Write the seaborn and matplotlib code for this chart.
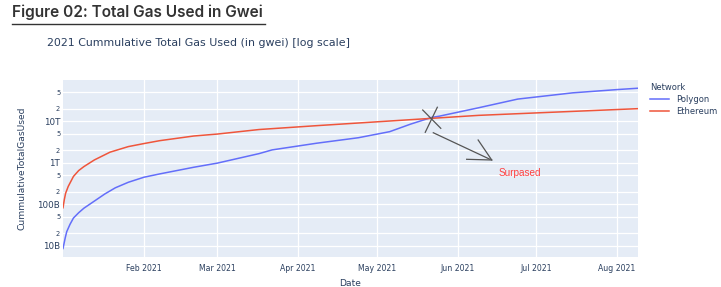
import matplotlib
matplotlib.use("Agg")
import matplotlib.pyplot as plt
import matplotlib.ticker as mticker
import seaborn as sns
import pandas as pd


# Values (gas in gwei)

networks = ['Polygon', 'Ethereum']
line_colors = ['#636EFA', '#EF553B']

eth_dates = ['2021-01-01 00:00', '2021-01-01 12:00', '2021-01-02 00:00', '2021-01-03 00:00',
             '2021-01-05 00:00', '2021-01-07 00:00', '2021-01-09 00:00', '2021-01-13 00:00',
             '2021-01-19 00:00', '2021-01-26 00:00', '2021-02-01 00:00', '2021-02-07 00:00',
             '2021-02-20 00:00', '2021-03-01 00:00', '2021-03-17 00:00', '2021-04-08 00:00',
             '2021-05-22 00:00', '2021-06-09 00:00', '2021-07-01 00:00', '2021-08-09 00:00']
eth_gas = [8.3e10, 1.3e11, 1.85e11, 2.7e11,
           4.7e11, 6.5e11, 8.1e11, 1.17e12,
           1.8e12, 2.45e12, 2.9e12, 3.4e12,
           4.4e12, 4.9e12, 6.3e12, 7.8e12,
           1.17e13, 1.38e13, 1.58e13, 2.0e13]

poly_dates = ['2021-01-01 00:00', '2021-01-01 20:00', '2021-01-02 10:00', '2021-01-03 16:00',
              '2021-01-05 00:00', '2021-01-07 00:00', '2021-01-09 00:00', '2021-01-13 00:00',
              '2021-01-17 00:00', '2021-01-21 00:00', '2021-01-26 00:00', '2021-02-01 00:00',
              '2021-02-07 00:00', '2021-02-20 00:00', '2021-03-01 00:00', '2021-03-17 00:00',
              '2021-03-22 00:00', '2021-04-08 00:00', '2021-04-24 00:00', '2021-05-06 00:00',
              '2021-05-14 00:00', '2021-05-22 00:00', '2021-05-25 00:00', '2021-06-09 00:00',
              '2021-06-24 00:00', '2021-07-15 00:00', '2021-08-01 00:00', '2021-08-09 00:00']
poly_gas = [8.7e9, 1.55e10, 2.2e10, 3.3e10,
            4.7e10, 6.3e10, 8.1e10, 1.2e11,
            1.78e11, 2.5e11, 3.4e11, 4.5e11,
            5.4e11, 7.8e11, 9.8e11, 1.66e12,
            2.04e12, 2.95e12, 4.0e12, 5.6e12,
            8.5e12, 1.23e13, 1.32e13, 2.1e13,
            3.4e13, 4.8e13, 5.75e13, 6.2e13]

month_ticks = ['2021-02-01', '2021-03-01', '2021-04-01', '2021-05-01',
               '2021-06-01', '2021-07-01', '2021-08-01']
month_labels = ['Feb 2021', 'Mar 2021', 'Apr 2021', 'May 2021', 'Jun 2021', 'Jul 2021', 'Aug 2021']

major_y = [1e10, 1e11, 1e12, 1e13]
major_y_labels = ['10B', '100B', '1T', '10T']
minor_y = [2e10, 5e10, 2e11, 5e11, 2e12, 5e12, 2e13, 5e13]
minor_y_labels = ['2', '5', '2', '5', '2', '5', '2', '5']


# Table for seaborn

df = pd.concat([
  pd.DataFrame({'Date': pd.to_datetime(poly_dates), 'CummulativeTotalGasUsed': poly_gas, 'Network': 'Polygon'}),
  pd.DataFrame({'Date': pd.to_datetime(eth_dates), 'CummulativeTotalGasUsed': eth_gas, 'Network': 'Ethereum'}),
], ignore_index=True)


# Plotting

text_color = '#2a3f5f'
W, H = 721, 287
fig = plt.figure(figsize=(W / 100, H / 100), dpi=100)
ax = fig.add_axes([63 / W, 1 - 257 / H, 575 / W, 177 / H])
ax.set_facecolor('#E5ECF6')

sns.lineplot(ax=ax, data=df, x='Date', y='CummulativeTotalGasUsed', hue='Network',
             hue_order=networks, palette=dict(zip(networks, line_colors)), linewidth=1.1)

ax.set_yscale('log')
ax.set_ylim(10 ** 9.735, 10 ** 13.99)
ax.set_xlim(pd.Timestamp('2021-01-01'), pd.Timestamp('2021-08-09'))

ax.yaxis.set_major_locator(mticker.FixedLocator(major_y))
ax.yaxis.set_major_formatter(mticker.FixedFormatter(major_y_labels))
ax.yaxis.set_minor_locator(mticker.FixedLocator(minor_y))
ax.yaxis.set_minor_formatter(mticker.FixedFormatter(minor_y_labels))
ax.set_xticks(pd.to_datetime(month_ticks))
ax.set_xticklabels(month_labels)

ax.tick_params(axis='both', which='both', length=0, colors=text_color)
ax.tick_params(axis='y', which='major', labelsize=6.3, pad=2)
ax.tick_params(axis='y', which='minor', labelsize=4.8, pad=2)
ax.tick_params(axis='x', labelsize=5.6, pad=5)
ax.grid(True, which='both', color='white', linewidth=0.9)
ax.set_axisbelow(True)
for s in ax.spines.values():
  s.set_visible(False)

ax.set_xlabel('Date', fontsize=6.6, color=text_color, labelpad=4)
ax.set_ylabel('CummulativeTotalGasUsed', fontsize=6.6, color=text_color, labelpad=8)

leg = ax.legend(title='Network', loc='upper left', bbox_to_anchor=(1.015, 1.0), frameon=False,
                fontsize=6.0, title_fontsize=6.0, handlelength=2.3, borderaxespad=0,
                labelspacing=0.35, alignment='left')
for t in leg.get_texts():
  t.set_color(text_color)
leg.get_title().set_color(text_color)

# hand drawn mark at the crossing, arrow and note
pen = dict(color='#555555', linewidth=0.9, transform=ax.transAxes, clip_on=False)
ax.plot([0.6256, 0.657], [0.8305, 0.727], **pen)
ax.plot([0.651, 0.630], [0.846, 0.7045], **pen)
ax.plot([0.644, 0.7426], [0.702, 0.552], **pen)
ax.plot([0.722, 0.7456], [0.661, 0.548], **pen)
ax.plot([0.702, 0.7456], [0.552, 0.548], **pen)
ax.text(0.795, 0.476, 'Surpased', transform=ax.transAxes, color='#ff4040', fontsize=7.2,
        family='Liberation Sans', ha='center', va='center')

fig.text(47 / W, 1 - 43 / H, '2021 Cummulative Total Gas Used (in gwei) [log scale]',
         fontsize=7.9, color=text_color, ha='left', va='center')
fig.text(12 / W, 1 - 12 / H, 'Figure 02: Total Gas Used in Gwei', fontsize=11.1,
         family='Inter', fontweight='semibold', color='#333333', ha='left', va='center')
fig.add_artist(plt.Line2D([12 / W, 265 / W], [1 - 23.5 / H, 1 - 23.5 / H], color='#333333', linewidth=1.0))

fig.savefig('out.png', dpi=100)
